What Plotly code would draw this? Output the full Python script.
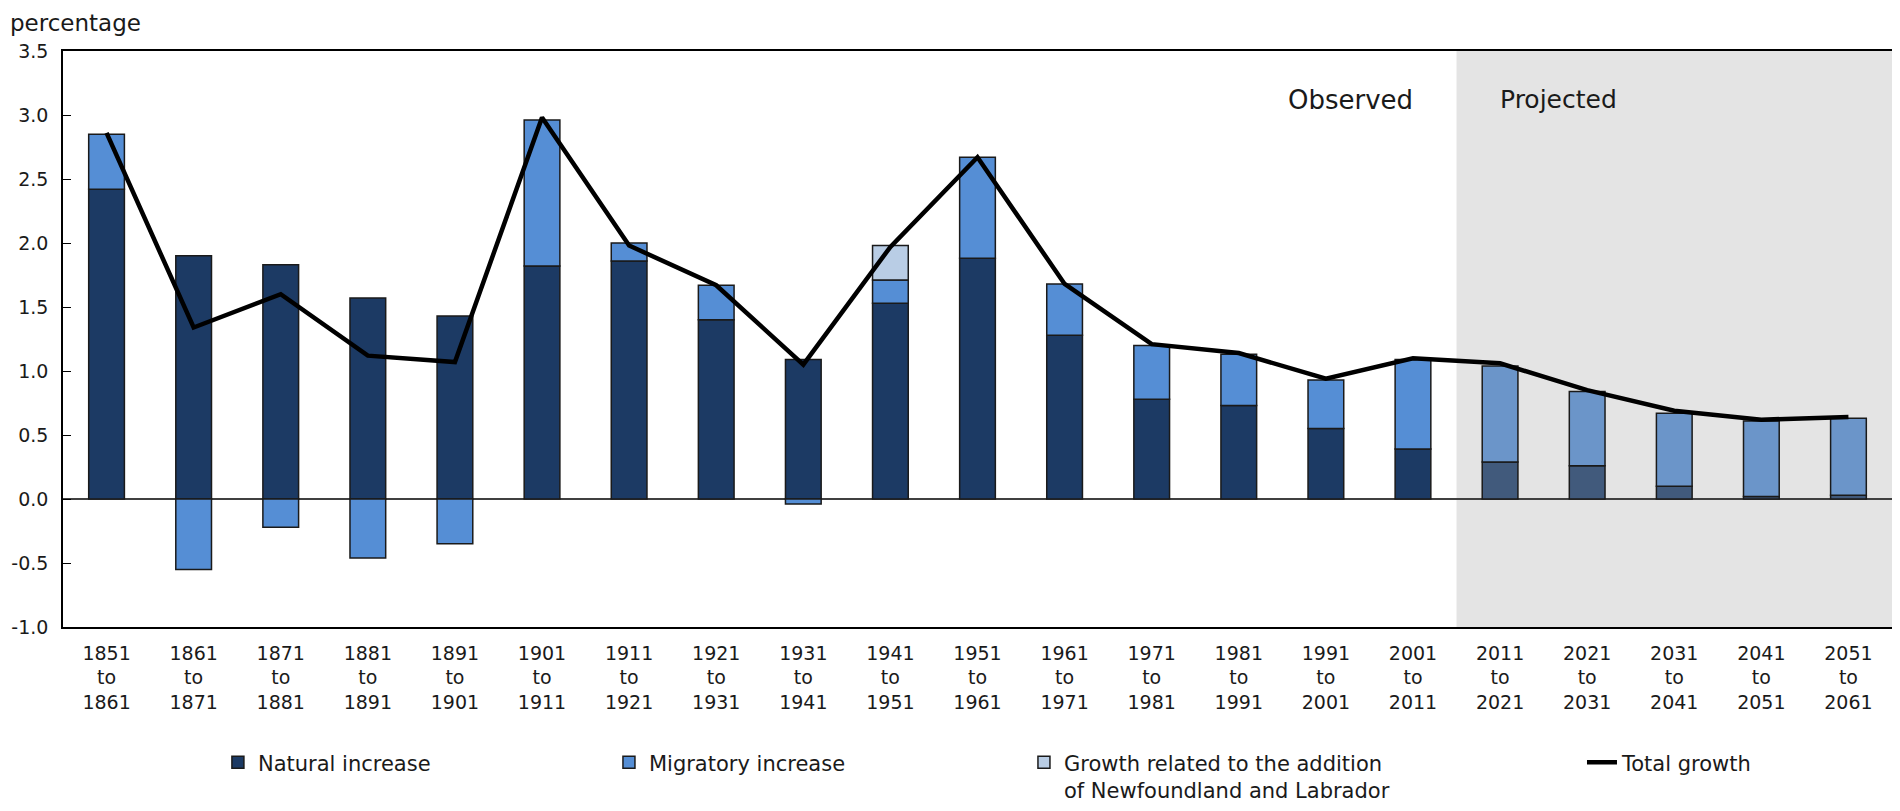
import plotly.graph_objects as go

# periods (x categories)
periods = [
    "1851<br>to<br>1861", "1861<br>to<br>1871", "1871<br>to<br>1881", "1881<br>to<br>1891",
    "1891<br>to<br>1901", "1901<br>to<br>1911", "1911<br>to<br>1921", "1921<br>to<br>1931",
    "1931<br>to<br>1941", "1941<br>to<br>1951", "1951<br>to<br>1961", "1961<br>to<br>1971",
    "1971<br>to<br>1981", "1981<br>to<br>1991", "1991<br>to<br>2001", "2001<br>to<br>2011",
    "2011<br>to<br>2021", "2021<br>to<br>2031", "2031<br>to<br>2041", "2041<br>to<br>2051",
    "2051<br>to<br>2061",
]

# average annual growth components, percentage
natural = [2.42, 1.90, 1.83, 1.57, 1.43, 1.82, 1.86, 1.40, 1.09, 1.53, 1.88,
           1.28, 0.78, 0.73, 0.55, 0.39, 0.29, 0.26, 0.10, 0.02, 0.03]
migratory = [0.43, -0.55, -0.22, -0.46, -0.35, 1.14, 0.14, 0.27, -0.04, 0.18, 0.79,
             0.40, 0.42, 0.40, 0.38, 0.70, 0.75, 0.58, 0.57, 0.59, 0.60]
newfoundland = [None, None, None, None, None, None, None, None, None, 0.27, None,
                None, None, None, None, None, None, None, None, None, None]
total = [2.86, 1.34, 1.60, 1.12, 1.07, 2.98, 1.98, 1.67, 1.05, 1.97, 2.67,
         1.68, 1.21, 1.14, 0.94, 1.10, 1.06, 0.85, 0.69, 0.62, 0.64]

# y axis ticks
y_ticks = [-1.0, -0.5, 0.0, 0.5, 1.0, 1.5, 2.0, 2.5, 3.0, 3.5]
y_labels = ["-1.0", "-0.5", "0.0", "0.5", "1.0", "1.5", "2.0", "2.5", "3.0", "3.5"]

first_projected = periods.index("2011<br>to<br>2021")

# projected bars look washed out under the grey band
nat_colors = ["#1c3a64" if i < first_projected else "#415a7c" for i in range(len(periods))]
mig_colors = ["#558ed5" if i < first_projected else "#6b95c9" for i in range(len(periods))]

FONT = "DejaVu Sans"
bar_line = dict(color="#1a1a1a", width=1.5)

fig = go.Figure()

# grey band for projections
fig.add_shape(
    type="rect",
    xref="x",
    yref="paper",
    x0=first_projected - 0.5,
    x1=len(periods) - 0.5,
    y0=0,
    y1=1,
    fillcolor="#e4e4e4",
    line_width=0,
    layer="below",
)

fig.add_trace(
    go.Bar(x=periods, y=natural, name="Natural increase",
           marker=dict(color=nat_colors, line=bar_line), width=0.41, legend="legend")
)
fig.add_trace(
    go.Bar(x=periods, y=migratory, name="Migratory increase",
           marker=dict(color=mig_colors, line=bar_line), width=0.41, legend="legend2")
)
fig.add_trace(
    go.Bar(x=periods, y=newfoundland,
           name="Growth related to the addition<br>of Newfoundland and Labrador",
           marker=dict(color="#b9cde5", line=bar_line), width=0.41, legend="legend3")
)
fig.add_trace(
    go.Scatter(x=periods, y=total, name="Total growth", mode="lines",
               line=dict(color="black", width=4.5), legend="legend4")
)

fig.update_layout(
    barmode="relative",
    plot_bgcolor="white",
    paper_bgcolor="white",
    font=dict(family=FONT, size=20, color="#1a1a1a"),
    margin=dict(l=55, r=0, t=43, b=176, autoexpand=False),
    showlegend=True,
)

leg = dict(orientation="h", yanchor="top", y=-0.2, xanchor="left",
           font=dict(family=FONT, size=21, color="#1a1a1a"),
           bgcolor="rgba(0,0,0,0)", valign="top")
fig.update_layout(
    legend=dict(leg, x=0.0847),
    legend2=dict(leg, x=0.2985),
    legend3=dict(leg, x=0.5254),
    legend4=dict(leg, x=0.8305),
)

fig.update_xaxes(
    type="category",
    range=[-0.5, len(periods) - 0.5],
    showgrid=False,
    showline=True,
    linecolor="black",
    linewidth=1.5,
    mirror=True,
    ticks="",
    ticklabelstandoff=8,
    tickfont=dict(family=FONT, size=19, color="#1a1a1a"),
)
fig.update_yaxes(
    range=[-1.0, 3.5],
    tickvals=y_ticks,
    ticktext=y_labels,
    showgrid=False,
    showline=True,
    linecolor="black",
    linewidth=1.5,
    mirror=True,
    ticks="inside",
    ticklen=8,
    tickcolor="black",
    ticklabelstandoff=9,
    zeroline=True,
    zerolinecolor="#404040",
    zerolinewidth=1.5,
    tickfont=dict(family=FONT, size=19, color="#1a1a1a"),
)

fig.add_annotation(text="percentage", xref="paper", yref="paper", x=0, y=1.0747,
                   xshift=-55, xanchor="left", yanchor="top", showarrow=False,
                   font=dict(family=FONT, size=23, color="#1a1a1a"))
fig.add_annotation(text="Observed", xref="paper", yref="paper", x=0.7392, y=0.915,
                   xanchor="right", yanchor="middle", showarrow=False,
                   font=dict(family=FONT, size=26, color="#1a1a1a"))
fig.add_annotation(text="Projected", xref="paper", yref="paper", x=0.7846, y=0.915,
                   xanchor="left", yanchor="middle", showarrow=False,
                   font=dict(family=FONT, size=25, color="#1a1a1a"))

fig.write_html("out.html")
